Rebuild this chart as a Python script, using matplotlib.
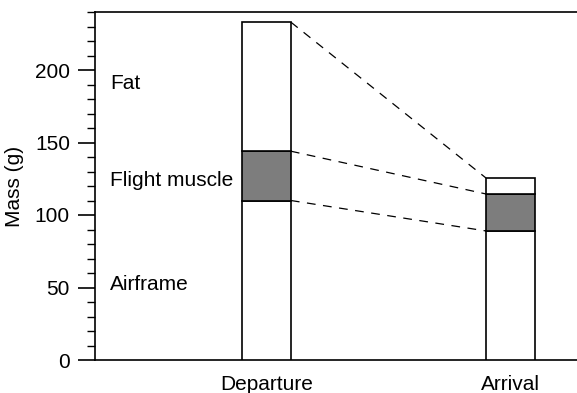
import matplotlib.pyplot as plt
from matplotlib.ticker import MultipleLocator

plt.rcParams['font.family'] = ['Liberation Sans', 'DejaVu Sans']

# data
stages = ['Departure', 'Arrival']
airframe = [110, 89]
muscle = [34, 25.5]
fat = [89, 11]
components = ['Airframe', 'Flight muscle', 'Fat']
label_y = [52, 124, 191]

xpos = [1, 2]
width = 0.2

fig = plt.figure(figsize=(5.77, 3.93), dpi=100)
ax = fig.add_axes([95 / 577, 33 / 393, 482 / 577, 348 / 393])

bottom_muscle = [a for a in airframe]
bottom_fat = [a + m for a, m in zip(airframe, muscle)]
tops = [b + f for b, f in zip(bottom_fat, fat)]

ax.bar(xpos, airframe, width, color='white', edgecolor='black', linewidth=1.2, zorder=3)
ax.bar(xpos, muscle, width, bottom=bottom_muscle, color='#7d7d7d', edgecolor='black', linewidth=1.2, zorder=3)
ax.bar(xpos, fat, width, bottom=bottom_fat, color='white', edgecolor='black', linewidth=1.2, zorder=3)

# dashed connectors between the tops of each segment
for levels in (airframe, bottom_fat, tops):
    ax.plot([xpos[0] + width / 2, xpos[1] - width / 2], levels,
            color='black', linestyle=(0, (7, 6)), linewidth=0.9, zorder=2)

for name, y in zip(components, label_y):
    ax.text(0.36, y, name, fontsize=15, va='center', ha='left')

ax.set_xlim(0.297, 2.273)
ax.set_ylim(0, 240)
ax.set_xticks(xpos)
ax.set_xticklabels(stages, fontsize=15)
ax.tick_params(axis='x', length=0, pad=11)
ax.yaxis.set_major_locator(MultipleLocator(50))
ax.yaxis.set_minor_locator(MultipleLocator(10))
ax.tick_params(axis='y', which='major', length=12, width=1.2, labelsize=15, pad=6)
ax.tick_params(axis='y', which='minor', length=6, width=1.0)
ax.set_ylabel('Mass (g)', fontsize=15, labelpad=8)

ax.spines['right'].set_visible(False)
for s in ('left', 'top', 'bottom'):
    ax.spines[s].set_linewidth(1.2)

fig.savefig('out.png', dpi=100)
